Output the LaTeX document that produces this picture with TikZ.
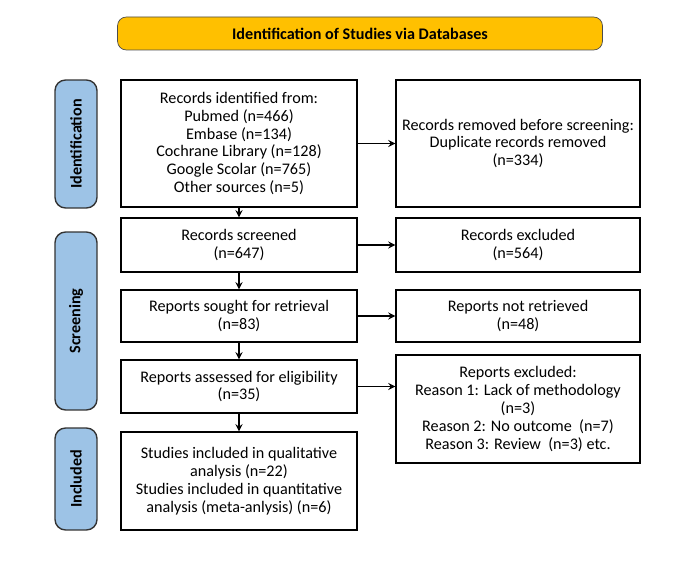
\documentclass[tikz,border=0pt]{standalone}
\usepackage{fontspec}
\setmainfont{Carlito}
\usepackage{xcolor}
\usetikzlibrary{positioning}
\definecolor{banner}{HTML}{FFC000}
\definecolor{phase}{HTML}{9DC3E6}
\begin{document}
\begin{tikzpicture}[x=0.02cm,y=-0.02cm,
    every node/.style={font=\fontsize{9.2}{10.2}\selectfont},
    box/.style={draw=black,thick,align=center,inner sep=0pt},
    side/.style={draw=black!80,fill=phase,rounded corners=6pt,thick},
    arr/.style={->,>=stealth,thick}]
    \useasboundingbox (0,0) rectangle (680,567);
    % Title
    \node[draw=black!70,fill=banner,rounded corners=5pt,minimum width=9.7cm,minimum height=0.66cm,font=\fontsize{9.2}{10.2}\selectfont\bfseries] (title) at (360,33.5) {Identification of Studies via Databases};
    % Phases
    \node[side,minimum width=2.56cm,minimum height=0.84cm,rotate=90] (ident) at (76,144) {\bfseries Identification};
    \node[side,minimum width=3.56cm,minimum height=0.84cm,rotate=90] (screen) at (76,321) {\bfseries Screening};
    \node[side,minimum width=2.04cm,minimum height=0.84cm,rotate=90] (incl) at (76,479) {\bfseries Included};
    % Left column
    \node[box,minimum width=4.72cm,minimum height=2.54cm] (records) at (239,143.5) {Records identified from:\\Pubmed (n=466)\\Embase (n=134)\\Cochrane Library (n=128)\\Google Scolar (n=765)\\Other sources (n=5)};
    \node[box,minimum width=4.72cm,minimum height=1.08cm] (screened) at (239,245) {Records screened\\(n=647)};
    \node[box,minimum width=4.72cm,minimum height=1.04cm] (sought) at (239,316) {Reports sought for retrieval\\(n=83)};
    \node[box,minimum width=4.72cm,minimum height=1.06cm] (assessed) at (239,386.5) {Reports assessed for eligibility\\(n=35)};
    \node[box,minimum width=4.72cm,minimum height=1.96cm] (included) at (239,481) {Studies included in qualitative\\analysis (n=22)\\Studies included in quantitative\\analysis (meta-anlysis) (n=6)};
    % Right column
    \node[box,minimum width=4.88cm,minimum height=2.54cm] (removed) at (518,143.5) {Records removed before screening:\\Duplicate records removed\\(n=334)};
    \node[box,minimum width=4.88cm,minimum height=1.08cm] (excluded) at (518,245) {Records excluded\\(n=564)};
    \node[box,minimum width=4.88cm,minimum height=1.04cm] (notretr) at (518,316) {Reports not retrieved\\(n=48)};
    \node[box,minimum width=4.88cm,minimum height=2.16cm] (reasons) at (518,409) {Reports excluded:\\Reason 1: Lack of methodology\\(n=3)\\Reason 2: No outcome~ (n=7)\\Reason 3: Review~ (n=3) etc.};
    % Connectors
    \draw[arr] (records) -- (screened);
    \draw[arr] (screened) -- (sought);
    \draw[arr] (sought) -- (assessed);
    \draw[arr] (assessed) -- (included);
    \draw[arr] (records) -- (removed);
    \draw[arr] (screened) -- (excluded);
    \draw[arr] (sought) -- (notretr);
    \draw[arr] (assessed.east) -- (assessed.east -| reasons.west);
\end{tikzpicture}
\end{document}
